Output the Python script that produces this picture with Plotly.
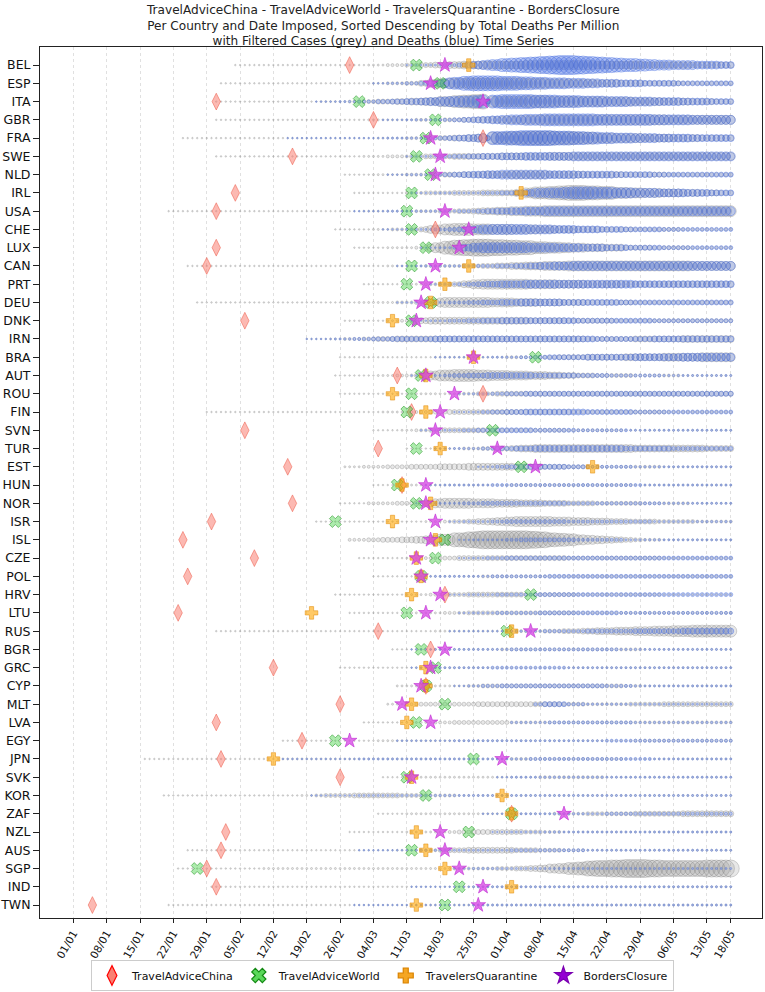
import datetime as dt
import plotly.graph_objects as go

# ---------------- data ----------------
COUNTRIES = ["BEL", "ESP", "ITA", "GBR", "FRA", "SWE", "NLD", "IRL", "USA", "CHE", "LUX", "CAN",
             "PRT", "DEU", "DNK", "IRN", "BRA", "AUT", "ROU", "FIN", "SVN", "TUR", "EST", "HUN",
             "NOR", "ISR", "ISL", "CZE", "POL", "HRV", "LTU", "RUS", "BGR", "GRC", "CYP", "MLT",
             "LVA", "EGY", "JPN", "SVK", "KOR", "ZAF", "NZL", "AUS", "SGP", "IND", "TWN"]

# Run-length encoded daily marker diameters (px): "day:size" where day = days since 2020-01-01,
# size holds for each following day until the next entry (last entry holds until 18/05).
CASES = {
    "BEL": "34:1.5 62:2 66:3 70:4 73:5 76:6 79:7 82:8 95:9 110:8 120:7 130:6",
    "ESP": "31:1.5 62:2 66:3 70:4 73:6 75:8 77:9 79:10 83:11 95:10 100:9 105:8 110:7 115:6 120:5 128:4",
    "ITA": "30:1.5 52:2 58:3 60:4 64:5 68:6 71:7 74:8 77:10 80:12 82:13 84:14 86:15 87:5 88:11 95:12 100:11 106:10 112:9 118:8 124:7 130:6 135:5",
    "GBR": "30:1.5 62:2 72:3 78:4 82:5 85:6 88:7 91:8 94:9 98:10 110:10 125:9",
    "FRA": "23:1.5 64:2 70:3 74:4 77:5 80:6 83:7 85:8 86:9 87:5 88:12 92:13 96:14 102:13 106:12 110:10 114:9 120:8 126:7 132:6",
    "SWE": "30:1.5 61:2 66:3 71:4 74:5 80:6 90:7 100:8",
    "NLD": "57:1.5 63:2 70:3 75:4 78:5 82:6 86:7 92:8 100:7 108:6 116:5 125:4",
    "IRL": "59:1.5 70:3 74:4 80:5 86:6 93:7 95:10 97:12 100:13 102:14 104:15 108:14 111:13 114:11 117:10 120:9 124:8 128:7 132:6 136:5",
    "USA": "20:1.5 61:2 72:3 77:4 81:5 84:6 86:7 89:8 92:9 95:10 99:11",
    "CHE": "55:1.5 63:2 67:3 71:4 73:5 74:6 75:8 76:9 78:11 80:12 84:11 88:10 93:9 98:8 102:7 106:6 111:5 118:4 128:3",
    "LUX": "59:1.5 66:2 72:3 74:5 75:8 76:10 78:13 80:15 82:16 84:17 88:16 91:15 94:14 97:12 100:11 103:10 105:9 108:8 112:7 116:5 122:4 130:3",
    "CAN": "24:1.5 66:2 74:3 82:4 86:5 89:6 92:7 95:8 99:9 104:10 130:9",
    "PRT": "61:1.5 70:2 74:3 78:4 80:5 82:7 84:9 86:10 96:9 102:8 108:7 116:6",
    "DEU": "26:1.5 60:2 68:3 72:4 74:5 75:7 77:9 78:10 88:9 93:8 98:7 103:6 108:5 118:4",
    "DNK": "57:1.5 66:2 69:3 71:4 73:6 75:7 96:6 104:5 114:4",
    "IRN": "49:1.5 54:2 57:3 61:4 64:5 68:6 108:5 118:6 128:7",
    "BRA": "56:1.5 76:2 91:3 97:4 102:5 108:6 116:7 124:8 132:9",
    "AUT": "55:1.5 64:2 68:3 72:4 73:5 74:7 75:9 77:11 80:12 85:11 88:10 92:9 96:8 100:7 103:6 106:5 110:4 118:3 128:2",
    "ROU": "56:1.5 70:2 81:3 85:4 89:5",
    "FIN": "28:1.5 65:2 71:3 75:4 79:5 105:4 125:3",
    "SVN": "63:1.5 69:2 72:3 75:4 77:5 90:4 104:3 116:2",
    "TUR": "70:1.5 76:2 82:3 86:4 89:5 92:6 94:7 97:8 118:7 133:6",
    "EST": "57:2 61:3 66:4 71:5 77:6 83:7 93:6 99:5 104:4 109:3 124:2",
    "HUN": "63:1.5 68:2 92:3 118:2",
    "NOR": "56:1.5 62:3 68:4 72:5 74:7 76:9 78:10 84:9 89:8 94:7 99:6 104:5 110:4 120:3 130:2",
    "ISR": "51:1.5 74:2 78:3 80:4 83:5 85:6 87:7 89:8 91:9 93:10 101:9 105:8 109:7 113:6 117:5 123:4 131:3",
    "ISL": "58:3 62:4 65:5 69:6 72:7 74:8 75:9 77:11 80:14 83:16 85:17 86:18 96:17 98:16 100:14 102:13 104:12 106:10 108:9 110:8 112:7 114:6 116:5 118:4 120:3 124:2",
    "CZE": "60:1.5 70:2 73:3 77:4 81:5 104:4 124:3",
    "POL": "63:1.5 72:2 86:3",
    "HRV": "55:1.5 70:2 75:3 79:4 83:5 95:4 106:3 124:2",
    "LTU": "58:1.5 70:2 78:3 83:4 106:3",
    "RUS": "30:1.5 76:2 92:3 99:4 103:5 107:6 110:7 114:8 118:9 122:10 126:11 130:12",
    "BGR": "67:1.5 72:2 90:3 120:2",
    "GRC": "56:1.5 72:2",
    "CYP": "68:2 73:4 76:2 83:3 86:4 116:3 120:2",
    "MLT": "66:2 70:3 73:4 85:5 103:4 108:3 117:4 124:5",
    "LVA": "61:1.5 70:2 76:3 80:4 92:3",
    "EGY": "44:1.5 64:2 118:3",
    "JPN": "15:1.5 44:2 92:3 116:2",
    "SVK": "65:1.5 70:2 98:3 112:2",
    "KOR": "19:1.5 48:2 51:3 53:4 59:5 69:4 75:3 81:2",
    "ZAF": "64:1.5 70:2 101:3 108:4 118:5 128:6",
    "NZL": "58:1.5 70:2 79:3 81:4 84:5 95:4 99:3 103:2",
    "AUS": "24:1.5 68:2 73:3 77:4 79:5 83:6 93:5 98:4 103:3 108:2",
    "SGP": "22:1.5 40:2 80:3 89:4 93:5 96:6 98:7 100:9 102:10 104:12 106:13 108:15 110:16 113:17 116:18 121:17 124:16 133:17",
    "IND": "29:1.5 80:2",
    "TWN": "20:1.5 72:2",
}

DEATHS = {
    "BEL": "70:1.5 74:2 78:3 81:4 83:5 84:7 85:8 86:9 87:10 88:11 90:13 92:14 94:15 96:16 98:17 100:18 102:19 106:18 108:17 110:16 112:15 114:14 116:13 119:12 121:11 123:10 126:9 131:8 136:7",
    "ESP": "63:1.5 66:2 70:3 73:4 75:5 77:7 78:9 79:11 80:12 82:14 84:15 90:14 94:13 97:12 100:11 104:10 108:9 111:8 115:7 120:6 127:5",
    "ITA": "51:1.5 56:2 60:3 64:4 67:5 70:6 73:7 75:8 77:9 79:10 81:11 84:12 86:13 87:5 88:13 90:14 97:13 102:12 107:11 112:10 117:9 122:8 128:7 134:6",
    "GBR": "65:1.5 70:2 76:3 80:4 82:5 84:6 86:7 88:8 90:9 92:10 95:11 99:12 110:11 122:10 130:9",
    "FRA": "45:1.5 66:2 74:3 77:4 79:5 81:6 83:7 85:8 86:9 87:5 88:13 91:14 94:15 101:14 105:13 108:12 111:11 114:10 118:9 123:8 130:7",
    "SWE": "70:1.5 74:2 77:3 80:4 83:5 86:6 90:7 95:8 105:9",
    "NLD": "66:1.5 70:2 76:3 78:4 80:5 82:6 84:7 87:8 90:9 100:8 106:7 114:6 122:5",
    "IRL": "71:1.5 76:2 86:3 90:4 93:5 95:7 97:9 100:10 103:11 105:12 110:11 114:10 118:9 123:8 129:7 134:6",
    "USA": "59:1.5 66:2 81:3 85:4 87:5 89:6 92:7 95:8 99:9",
    "CHE": "65:1.5 70:2 76:3 79:4 81:5 83:6 84:7 85:8 86:9 88:10 96:9 101:8 106:7 111:6 116:5 124:4",
    "LUX": "73:1.5 77:2 80:3 81:5 82:7 84:9 86:10 96:9 102:8 107:7 112:6 117:5 124:4",
    "CAN": "68:1.5 72:2 85:3 89:4 93:5 96:6 98:7 101:8 105:9",
    "PRT": "75:1.5 77:2 81:3 83:4 85:5 87:6 90:7 95:8 118:7",
    "DEU": "68:1.5 73:2 79:3 83:4 86:5 90:6 94:7 103:6 115:5",
    "DNK": "71:1.5 75:2 79:3 83:4 86:5 90:6 106:5 122:4",
    "IRN": "49:1.5 55:2 59:3 63:4 67:5 76:6 110:5 122:6",
    "BRA": "76:1.5 88:2 94:3 97:4 100:5 108:6 118:7 128:8",
    "AUT": "71:1.5 74:2 78:3 80:4 83:5 87:6 97:5 106:4 113:3 124:2",
    "ROU": "81:1.5 84:2 88:3 91:4 95:5",
    "FIN": "80:1.5 84:2 86:3 88:4 91:5 95:6 108:5 118:4",
    "SVN": "73:1.5 78:2 82:3 85:4 89:5 97:4 106:3 117:2",
    "TUR": "76:1.5 80:2 86:3 89:4 93:5 97:6 116:5 126:4",
    "EST": "85:1.5 87:2 89:3 91:4 93:5 104:4 108:3 118:2",
    "HUN": "74:1.5 78:2 88:3 120:2",
    "NOR": "72:1.5 76:2 82:3 86:4 104:3 124:2",
    "ISR": "79:1.5 82:2 88:3 91:4 104:3 122:2",
    "ISL": "81:1.5 84:2 91:3 94:4 106:3 116:2",
    "CZE": "81:1.5 84:2 87:3 91:4",
    "POL": "72:1.5 76:2 88:3 100:4",
    "HRV": "79:1.5 83:2 89:3 97:4",
    "LTU": "81:1.5 84:2 89:3 98:4 115:3",
    "RUS": "79:1.5 92:2 99:3 108:4 118:5 128:6",
    "BGR": "71:1.5 76:2 92:3 115:2",
    "GRC": "71:1.5 75:2 88:3 104:2",
    "CYP": "80:1.5 83:2 86:3 90:4 112:3 118:2",
    "MLT": "97:3 99:5 104:3 108:2",
    "LVA": "92:2 100:3 118:2",
    "EGY": "68:1.5 80:2 112:3",
    "JPN": "44:1.5 60:2 96:3 122:2",
    "SVK": "89:1.5 92:2",
    "KOR": "50:1.5 60:2",
    "ZAF": "86:1.5 92:2 112:3",
    "NZL": "88:1.5 92:2",
    "AUS": "60:1.5 72:2 92:3 108:2",
    "SGP": "80:1.5 84:2",
    "IND": "71:1.5 84:2",
    "TWN": "59:1.5 84:2",
}

# Event dates, days since 2020-01-01
TRAVEL_ADVICE_CHINA = {
    "BEL": 58, "ITA": 30, "GBR": 63, "FRA": 86, "SWE": 46, "IRL": 34, "USA": 30, "CHE": 76,
    "LUX": 30, "CAN": 28, "DNK": 36, "AUT": 68, "ROU": 86, "FIN": 71, "SVN": 36, "TUR": 64,
    "EST": 45, "HUN": 69, "NOR": 46, "ISR": 29, "ISL": 23, "CZE": 38, "POL": 24, "HRV": 78,
    "LTU": 22, "RUS": 64, "BGR": 75, "GRC": 42, "CYP": 74, "MLT": 56, "LVA": 30, "EGY": 48,
    "JPN": 31, "SVK": 56, "ZAF": 92, "NZL": 32, "AUS": 31, "SGP": 28, "IND": 30, "TWN": 4,
}
TRAVEL_ADVICE_WORLD = {
    "BEL": 72, "ESP": 77, "ITA": 60, "GBR": 76, "FRA": 74, "SWE": 72, "NLD": 75, "IRL": 71,
    "USA": 70, "CHE": 71, "LUX": 74, "CAN": 71, "PRT": 70, "DEU": 75, "DNK": 71, "BRA": 97,
    "AUT": 73, "ROU": 71, "FIN": 70, "SVN": 88, "TUR": 72, "EST": 94, "HUN": 68, "NOR": 72,
    "ISR": 55, "ISL": 78, "CZE": 76, "POL": 73, "HRV": 96, "LTU": 70, "RUS": 91, "BGR": 73,
    "GRC": 76, "CYP": 74, "MLT": 78, "LVA": 72, "EGY": 55, "JPN": 84, "SVK": 70, "KOR": 74,
    "ZAF": 92, "NZL": 83, "AUS": 71, "SGP": 26, "IND": 81, "TWN": 78,
}
TRAVELERS_QUARANTINE = {
    "BEL": 83, "IRL": 94, "CAN": 83, "PRT": 78, "DEU": 75, "DNK": 67, "BRA": 84, "AUT": 74,
    "ROU": 67, "FIN": 74, "TUR": 77, "EST": 109, "HUN": 69, "NOR": 75, "ISR": 67, "ISL": 76,
    "CZE": 72, "POL": 73, "HRV": 71, "LTU": 50, "RUS": 92, "GRC": 74, "CYP": 74, "MLT": 71,
    "LVA": 70, "JPN": 42, "SVK": 71, "KOR": 90, "ZAF": 92, "NZL": 72, "AUS": 74, "SGP": 78,
    "IND": 92, "TWN": 72,
}
BORDERS_CLOSURE = {
    "BEL": 78, "ESP": 75, "ITA": 86, "FRA": 75, "SWE": 77, "NLD": 76, "USA": 78, "CHE": 83,
    "LUX": 81, "CAN": 76, "PRT": 74, "DEU": 73, "DNK": 72, "BRA": 84, "AUT": 74, "ROU": 80,
    "FIN": 77, "SVN": 76, "TUR": 89, "EST": 97, "HUN": 74, "NOR": 74, "ISR": 76, "ISL": 75,
    "CZE": 72, "POL": 73, "HRV": 77, "LTU": 74, "RUS": 96, "BGR": 78, "GRC": 75, "CYP": 73,
    "MLT": 69, "LVA": 75, "EGY": 58, "JPN": 90, "SVK": 71, "ZAF": 103, "NZL": 77, "AUS": 78,
    "SGP": 81, "IND": 86, "TWN": 85,
}

TICK_DAYS = [0, 7, 14, 21, 28, 35, 42, 49, 56, 63, 70, 77, 84, 91, 98, 105, 112, 119, 126, 133, 138]
END_DAY = 138

TITLE = ("TravelAdviceChina - TravelAdviceWorld - TravelersQuarantine - BordersClosure<br>"
         "Per Country and Date Imposed, Sorted Descending by Total Deaths Per Million<br>"
         "with Filtered Cases (grey) and Deaths (blue) Time Series")

# ---------------- helpers ----------------
BASE = dt.datetime(2020, 1, 1)


def day_to_date(d):
    return (BASE + dt.timedelta(days=d)).strftime("%Y-%m-%d")


def decode(spec):
    pts = [(int(a), float(b)) for a, b in (t.split(":") for t in spec.split())]
    days, sizes = [], []
    for i, (d, s) in enumerate(pts):
        nxt = pts[i + 1][0] if i + 1 < len(pts) else END_DAY + 1
        for k in range(d, nxt):
            days.append(k)
            sizes.append(s)
    return days, sizes


def series_xy(table):
    xs, ys, ss = [], [], []
    for row, c in enumerate(COUNTRIES):
        if c not in table:
            continue
        days, sizes = decode(table[c])
        xs += [day_to_date(d) for d in days]
        ys += [row] * len(days)
        ss += sizes
    return xs, ys, ss


def event_xy(table):
    xs, ys = [], []
    for row, c in enumerate(COUNTRIES):
        if c in table:
            xs.append(day_to_date(table[c]))
            ys.append(row)
    return xs, ys


fig = go.Figure()

cx, cy, cs = series_xy(CASES)
fig.add_trace(go.Scatter(
    x=cx, y=cy, mode="markers", showlegend=False, hoverinfo="skip",
    marker=dict(size=cs, color="rgba(140,140,140,0.28)",
                line=dict(color="rgba(100,100,100,0.5)", width=0.8))))

dx, dy, ds = series_xy(DEATHS)
fig.add_trace(go.Scatter(
    x=dx, y=dy, mode="markers", showlegend=False, hoverinfo="skip",
    marker=dict(size=ds, color="rgba(65,105,225,0.35)",
                line=dict(color="rgba(65,105,225,0.8)", width=0.8))))

EVENTS = [
    ("TravelAdviceChina", TRAVEL_ADVICE_CHINA, "diamond-tall", 12,
     "rgba(250,128,114,0.55)", "rgba(235,70,50,0.45)", "#fa8072", "#ff0000"),
    ("TravelAdviceWorld", TRAVEL_ADVICE_WORLD, "x", 10.5,
     "rgba(50,205,50,0.40)", "rgba(0,128,0,0.45)", "#5ad85a", "#138a13"),
    ("TravelersQuarantine", TRAVELERS_QUARANTINE, "cross", 10.5,
     "rgba(255,165,0,0.60)", "rgba(225,135,0,0.5)", "#f5a623", "#d98200"),
    ("BordersClosure", BORDERS_CLOSURE, "star", 11,
     "rgba(215,70,230,0.78)", "rgba(190,40,210,0.6)", "#9400d3", "#7a00b0"),
]

for name, table, sym, size, fill, edge, lfill, ledge in EVENTS:
    ex, ey = event_xy(table)
    fig.add_trace(go.Scatter(
        x=ex, y=ey, mode="markers", showlegend=False, hoverinfo="skip",
        marker=dict(symbol=sym, size=size, color=fill, line=dict(color=edge, width=1))))

for name, table, sym, size, fill, edge, lfill, ledge in EVENTS:
    fig.add_trace(go.Scatter(
        x=[None], y=[None], mode="markers", name=name, showlegend=True,
        marker=dict(symbol=sym, size=size + 2, color=lfill, line=dict(color=ledge, width=1.2))))

PLOT_TOP, PLOT_BOTTOM = 47, 918
PH = PLOT_BOTTOM - PLOT_TOP

fig.update_layout(
    width=765, height=992,
    margin=dict(l=40, r=3, t=PLOT_TOP, b=992 - PLOT_BOTTOM, autoexpand=False),
    paper_bgcolor="white", plot_bgcolor="white",
    font=dict(family="DejaVu Sans", color="#111111", size=11),
    annotations=[dict(
        text=TITLE, xref="paper", yref="paper", x=(382.5 - 40) / 722,
        y=1 + (PLOT_TOP - 25.5) / PH, xanchor="center", yanchor="middle", align="center",
        showarrow=False, font=dict(family="DejaVu Sans", size=12.1, color="#222222"))],
    showlegend=True,
    legend=dict(orientation="h", xref="container", yref="container",
                x=0.5, xanchor="center", y=(992 - 960) / 992, yanchor="top",
                bordercolor="#cccccc", borderwidth=1, bgcolor="white",
                font=dict(family="DejaVu Sans", size=11, color="#111111")),
)

fig.update_xaxes(
    type="date", automargin=False,
    range=["2019-12-25 00:00", "2020-05-24 13:30"],
    tickvals=[day_to_date(d) for d in TICK_DAYS],
    ticktext=[(BASE + dt.timedelta(days=d)).strftime("%d/%m") for d in TICK_DAYS],
    tickangle=-60, ticks="outside", ticklen=4, tickcolor="#222",
    tickfont=dict(family="DejaVu Sans", size=10.6, color="#111"),
    showgrid=True, gridcolor="#e0e0e0", griddash="dot", gridwidth=1,
    showline=True, linecolor="#222", linewidth=1, mirror=True, zeroline=False,
)
fig.update_yaxes(
    automargin=False,
    range=[46.71, -0.99],
    tickvals=list(range(len(COUNTRIES))), ticktext=COUNTRIES,
    ticks="outside", ticklen=6, tickcolor="#222",
    tickfont=dict(family="DejaVu Sans", size=12.5, color="#111"),
    showgrid=False, showline=True, linecolor="#222", linewidth=1, mirror=True, zeroline=False,
)

fig.write_html("out.html",
               config={"displayModeBar": False},
               post_script="document.body.style.margin='0px';document.body.style.overflow='hidden';")
